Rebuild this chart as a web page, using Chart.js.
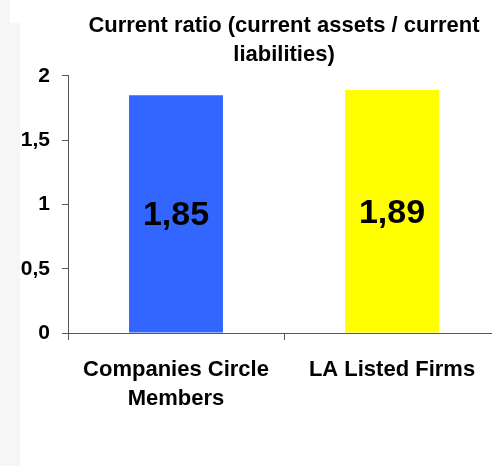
<!DOCTYPE html>
<html>
<head>
<meta charset="utf-8">
<script src="https://cdn.jsdelivr.net/npm/chart.js@4/dist/chart.umd.min.js"></script>
<style>
  html, body { margin: 0; padding: 0; background: #fff; overflow: hidden; }
  .wrap { position: relative; width: 492px; height: 466px; overflow: hidden; }
  .strip-top { position: absolute; left: 0; top: 0; width: 10px; height: 23px; background: #f6f6f6; }
  .strip { position: absolute; left: 0; top: 23px; width: 20px; height: 443px; background: #f6f6f6; }
  canvas { position: absolute; left: 0; top: 0; }
</style>
</head>
<body>
<div class="wrap">
  <div class="strip-top"></div>
  <div class="strip"></div>
  <canvas id="chart" width="500" height="466"></canvas>
</div>
<script>
const titleLines = ["Current ratio (current assets / current", "liabilities)"];
const categories = [["Companies Circle", "Members"], "LA Listed Firms"];
const ratios = [1.85, 1.89];
const barColors = ["#3366ff", "#ffff00"];
const yTicks = [0, 0.5, 1, 1.5, 2];

const fmt = (v) => String(v).replace(".", ",");

const valueLabels = {
  id: "valueLabels",
  afterDatasetsDraw(chart) {
    const ctx = chart.ctx;
    const meta = chart.getDatasetMeta(0);
    ctx.save();
    ctx.font = "bold 34px 'Liberation Sans', Arial, sans-serif";
    ctx.fillStyle = "#000";
    ctx.textAlign = "center";
    ctx.textBaseline = "middle";
    meta.data.forEach((bar, i) => {
      const y = (bar.y + bar.base) / 2;
      ctx.fillText(fmt(ratios[i]), bar.x, y + 2);
    });
    ctx.restore();
  },
};

new Chart(document.getElementById("chart"), {
  type: "bar",
  data: {
    labels: categories,
    datasets: [
      {
        data: ratios,
        backgroundColor: barColors,
        borderWidth: 0,
        barPercentage: 0.435,
        categoryPercentage: 1,
      },
    ],
  },
  options: {
    responsive: false,
    animation: false,
    layout: { padding: 0 },
    plugins: {
      legend: { display: false },
      tooltip: { enabled: false },
      title: {
        display: true,
        text: titleLines,
        fullSize: false,
        color: "#000",
        font: { family: "'Liberation Sans', Arial, sans-serif", size: 22, weight: "bold", lineHeight: 1.34 },
        padding: { top: 11, bottom: 6 },
      },
    },
    scales: {
      x: {
        offset: true,
        afterFit: (s) => { s.height = 133; },
        grid: { offset: true, drawOnChartArea: false, tickLength: 7, color: "#555" },
        border: { color: "#555", width: 1 },
        ticks: {
          color: "#000",
          maxRotation: 0,
          autoSkip: false,
          padding: 15,
          font: { family: "'Liberation Sans', Arial, sans-serif", size: 22, weight: "bold", lineHeight: 1.32 },
        },
      },
      y: {
        min: yTicks[0],
        max: yTicks[yTicks.length - 1],
        afterFit: (s) => { s.width = 68; },
        afterBuildTicks: (s) => { s.ticks = yTicks.map((v) => ({ value: v })); },
        grid: { drawOnChartArea: false, tickLength: 6, color: "#555" },
        border: { color: "#555", width: 1 },
        ticks: {
          color: "#000",
          padding: 12,
          callback: (v) => fmt(v),
          font: { family: "'Liberation Sans', Arial, sans-serif", size: 21, weight: "bold" },
        },
      },
    },
  },
  plugins: [valueLabels],
});
</script>
</body>
</html>
